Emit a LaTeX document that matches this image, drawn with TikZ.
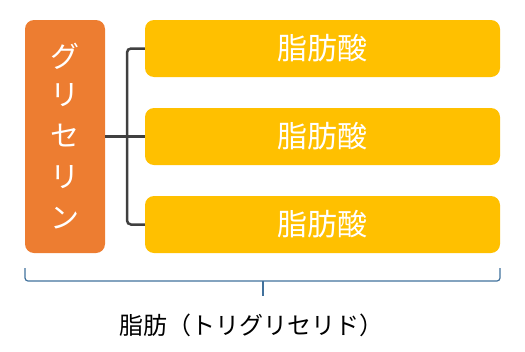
\documentclass[tikz,border=0pt]{standalone}
\usepackage{fontspec}
\newfontfamily\jp{Noto Sans CJK JP}
\definecolor{glyorange}{HTML}{ED7D31}
\definecolor{fayellow}{HTML}{FFC000}
\definecolor{conngray}{HTML}{404040}
\definecolor{braceblue}{HTML}{41719C}
\tikzset{
    glybox/.style={fill=glyorange, rounded corners=9pt, minimum width=80pt, minimum height=233pt, text=white, align=center, inner sep=0pt},
    fabox/.style={fill=fayellow, rounded corners=9pt, minimum width=355pt, minimum height=57pt, text=white, inner sep=0pt},
    conn/.style={draw=conngray, line width=2.5pt, rounded corners=4pt},
}
\begin{document}
\begin{tikzpicture}[x=1pt, y=-1pt, font=\jp]
    \useasboundingbox (0,0) rectangle (525,351);

        \node[glybox, font=\jp\fontsize{29}{41}\selectfont] (glycerin) at (65,136.5) {\raisebox{-3pt}{グ}\\リ\\セ\\リ\\ン};
        \foreach \i/\y in {1/48.5, 2/136.5, 3/224.5}
            \node[fabox, font=\jp\fontsize{30}{34}\selectfont] (fa\i) at (322.5,\y) {脂肪酸};

        \coordinate (bk) at (127,136.5);
        \draw[conn] (fa1.west) -| (bk) |- (fa3.west);
        \draw[conn] (glycerin.east |- bk) -- (fa2.west);

        \coordinate (bl) at (25,268);
        \coordinate (br) at (500,268);
        \coordinate (bm) at (263,281);
        \coordinate (btip) at (263,296);
        \draw[braceblue, line width=1.2pt, rounded corners=3pt] (bl) |- (bm) -| (br);
        \draw[braceblue, line width=1.2pt] (bm) -- (btip);
        \node[font=\jp\fontsize{24}{28}\selectfont] (fat) at (251,325) {脂肪（トリグリセリド）};

    \end{tikzpicture}
\end{document}
